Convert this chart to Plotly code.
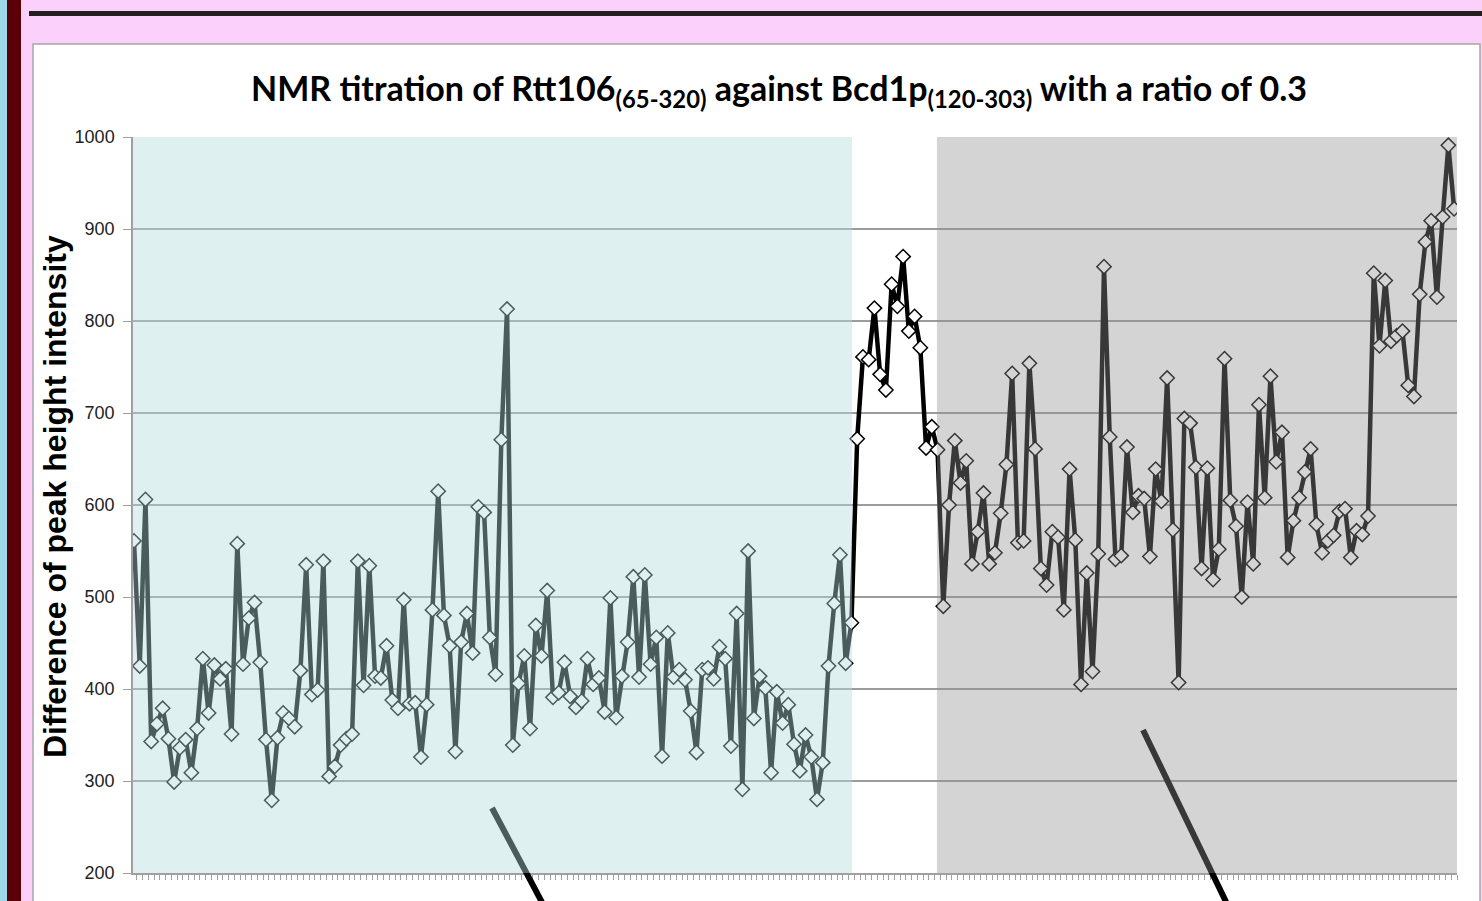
import plotly.graph_objects as go

# ---- data ----
# Region A: residues before the binding stretch (teal band)
region_a = [561, 425, 606, 343, 362, 379, 346, 299, 336, 345, 309, 357, 433, 374, 426, 411, 422, 351, 558, 427,
            477, 494, 429, 345, 279, 347, 374, 368, 359, 420, 535, 394, 399, 539, 305, 316, 339, 346, 351, 539,
            404, 534, 414, 412, 447, 388, 379, 497, 384, 385, 326, 383, 486, 615, 480, 447, 332, 451, 482, 439,
            598, 592, 456, 416, 671, 813, 339, 406, 436, 357, 469, 436, 507, 391, 396, 429, 392, 380, 387, 433,
            405, 412, 375, 499, 369, 414, 451, 522, 413, 524, 427, 456, 327, 461, 413, 421, 410, 376, 331, 421,
            423, 411, 446, 433, 338, 482, 291, 550, 368, 414, 401, 309, 397, 363, 383, 340, 311, 350, 326, 280,
            320, 425, 493, 546, 428, 472]
# Region B: the unshaded stretch (black line)
region_b = [672, 761, 758, 814, 742, 725, 840, 816, 870, 789, 805, 771, 662, 685]
# Region C: residues after the binding stretch (grey band)
region_c = [660, 490, 600, 670, 624, 648, 536, 571, 613, 536, 548, 591, 644, 743, 559, 561, 754, 661, 531, 513,
            571, 565, 486, 639, 562, 405, 526, 419, 547, 859, 674, 541, 545, 663, 592, 610, 607, 544, 639, 604,
            738, 573, 407, 694, 689, 641, 531, 640, 519, 552, 759, 605, 577, 500, 603, 536, 709, 608, 740, 647,
            679, 543, 583, 608, 636, 661, 579, 548, 561, 567, 593, 596, 543, 572, 568, 588, 852, 773, 844, 778,
            784, 789, 730, 718, 829, 886, 909, 826, 913, 991, 922]

values = region_a + region_b + region_c
positions = list(range(len(values)))

y_ticks = [200, 300, 400, 500, 600, 700, 800, 900, 1000]
title_text = ("<b>NMR titration of Rtt106<sub>(65-320)</sub> against "
              "Bcd1p<sub>(120-303)</sub> with a ratio of 0.3</b>")
y_title = "<b>Difference of peak height intensity</b>"

# ---- geometry helpers (pixel -> paper) ----
W_FIG, H_FIG = 1482, 901
L, R, T, B = 133, 1457, 137, 873
PW, PH = R - L, B - T


def px(x):
    return (x - L) / PW


def py(y):
    return (B - y) / PH


fig = go.Figure()
fig.add_trace(go.Scatter(
    x=positions, y=values, mode="lines+markers",
    line=dict(color="#000000", width=4.5),
    marker=dict(symbol="diamond", size=11, color="#ffffff",
                line=dict(color="#000000", width=1.5)),
    showlegend=False, hoverinfo="x+y",
))

teal_end = len(region_a) - 1 + 0.1
grey_start = len(region_a) + len(region_b) - 0.1
x_lo, x_hi = -0.17, len(values) - 0.5

shapes = [
    # white chart box
    dict(type="rect", xref="paper", yref="paper", layer="below",
         x0=px(33), x1=px(1480), y0=py(910), y1=py(44),
         fillcolor="#ffffff", line=dict(color="#a6a6a6", width=1.5)),
    # left colour strips
    dict(type="rect", xref="paper", yref="paper", layer="below",
         x0=px(-2), x1=px(7), y0=py(910), y1=py(-5),
         fillcolor="#9dd9ea", line=dict(width=0)),
    dict(type="rect", xref="paper", yref="paper", layer="below",
         x0=px(7), x1=px(21), y0=py(910), y1=py(-5),
         fillcolor="#5c0008", line=dict(width=0)),
    # top dark rule
    dict(type="line", xref="paper", yref="paper", layer="below",
         x0=px(29), x1=px(1490), y0=py(13.5), y1=py(13.5),
         line=dict(color="#231f20", width=5)),
    # diagonal pointer lines
    dict(type="line", xref="paper", yref="paper", layer="above",
         x0=px(492), y0=py(808), x1=px(545), y1=py(908),
         line=dict(color="#000000", width=6)),
    dict(type="line", xref="paper", yref="paper", layer="above",
         x0=px(1143), y0=py(730), x1=px(1229), y1=py(908),
         line=dict(color="#000000", width=6)),
    # translucent teal band
    dict(type="rect", xref="x", yref="y", layer="above",
         x0=x_lo, x1=teal_end, y0=200, y1=1000,
         fillcolor="rgba(176,219,219,0.42)", line=dict(width=0)),
    # translucent grey band
    dict(type="rect", xref="x", yref="y", layer="above",
         x0=grey_start, x1=x_hi, y0=200, y1=1000,
         fillcolor="rgba(143,143,143,0.39)", line=dict(width=0)),
]

annotations = [
    dict(text=title_text, xref="paper", yref="paper", x=px(779), y=py(90),
         xanchor="center", yanchor="middle", showarrow=False,
         font=dict(family="Lato, Open Sans, sans-serif", size=34, color="#000000")),
    dict(text=y_title, xref="paper", yref="paper", x=px(55), y=py(497),
         xanchor="center", yanchor="middle", showarrow=False, textangle=-90,
         font=dict(family="Liberation Sans, Arial, sans-serif", size=32, color="#000000")),
]

fig.update_layout(
    width=W_FIG, height=H_FIG,
    margin=dict(l=L, r=W_FIG - R, t=T, b=H_FIG - B, pad=0),
    paper_bgcolor="#fbd1fb",
    plot_bgcolor="rgba(0,0,0,0)",
    shapes=shapes, annotations=annotations,
    xaxis=dict(range=[x_lo, x_hi], showgrid=False, zeroline=False,
               showline=True, linecolor="#a0a0a0", linewidth=1.5,
               ticks="outside", tick0=0.5, dtick=1, ticklen=5, tickwidth=1,
               tickcolor="#a0a0a0", showticklabels=False),
    yaxis=dict(range=[200, 1000], tickvals=y_ticks, showgrid=True,
               gridcolor="#9c9c9c", gridwidth=1.5, zeroline=False,
               showline=True, linecolor="#a0a0a0", linewidth=1.5,
               ticks="outside", ticklen=8, tickcolor="#a0a0a0",
               ticklabelstandoff=5,
               tickfont=dict(family="Liberation Sans, Arial, sans-serif", size=18, color="#222222")),
    hovermode="closest",
)

fig.write_html("out.html", config={"displayModeBar": False},
               post_script="document.body.style.margin='0px';document.body.style.padding='0px';")
